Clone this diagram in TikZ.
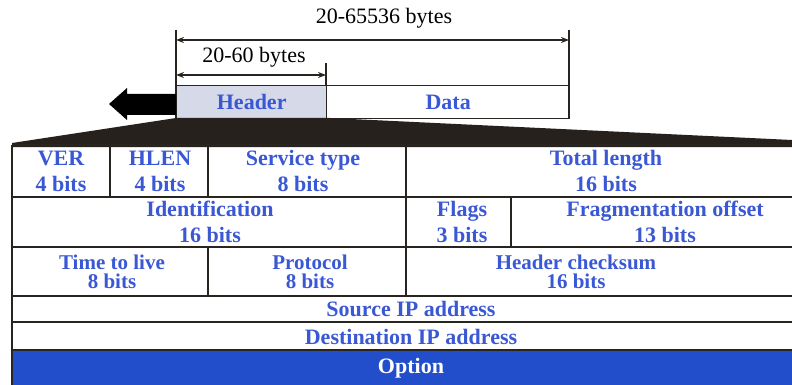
\documentclass[tikz,border=0pt]{standalone}
\usepackage{fontspec}
\setmainfont{Liberation Serif}
\usetikzlibrary{arrows.meta}
\definecolor{lblue}{RGB}{58,88,212}
\definecolor{optblue}{RGB}{34,78,204}
\definecolor{fan}{RGB}{38,33,28}
\definecolor{hatch}{RGB}{214,218,232}
\definecolor{rule}{RGB}{40,36,32}
\tikzset{
  field/.style={text=lblue,font=\fontsize{22}{26}\selectfont\bfseries,align=center,inner sep=0pt},
  tight/.style={field,font=\fontsize{21}{19}\selectfont\bfseries},
  dimtext/.style={font=\fontsize{22}{24}\selectfont,inner sep=0pt},
  dimline/.style={line width=1.4pt,draw=rule,{Stealth[length=8pt,width=6pt]}-{Stealth[length=8pt,width=6pt]}},
  tick/.style={line width=1.4pt,draw=rule},
  grid/.style={line width=1.8pt,draw=rule}
}
\begin{document}
\begin{tikzpicture}[x=1pt,y=-1pt]
\useasboundingbox (0,0) rectangle (792,385);
\clip (0,0) rectangle (792,385);
% dimension ticks
\coordinate (t1a) at (176,30); \coordinate (t1b) at (176,118);
\coordinate (t2a) at (569,30); \coordinate (t2b) at (569,118);
\coordinate (t3a) at (326,63); \coordinate (t3b) at (326,118);
\draw[tick] (t1a) -- (t1b);
\draw[tick] (t2a) -- (t2b);
\draw[tick] (t3a) -- (t3b);
\coordinate (a1) at (176,40); \coordinate (a2) at (569,40);
\coordinate (b1) at (176,75); \coordinate (b2) at (326,75);
\draw[dimline] (a1) -- (a2);
\draw[dimline] (b1) -- (b2);
\node[dimtext] (lbl1) at (384,18) {20-65536 bytes};
\node[dimtext] (lbl2) at (254,57) {20-60 bytes};
% header / data
\node[draw=rule,line width=1.4pt,fill=hatch,minimum width=150pt,minimum height=33pt,anchor=north west,inner sep=0pt] (hdr) at (176,85) {};
\node[draw=rule,line width=1.4pt,minimum width=243pt,minimum height=33pt,anchor=north west,inner sep=0pt] (dat) at (326,85) {};
\node[field] (hdrt) at (hdr.center) {Header};
\node[field] (datt) at (dat.center) {Data};
% black arrow
\fill[black] (109,104) -- (127,88) -- (127,94) -- (176,94) -- (176,115) -- (127,115) -- (127,120) -- cycle;
% fan
\fill[fan] (12,143) -- (176,118) -- (330,118) -- (792,140) -- (792,147) -- (12,147) -- cycle;
% option row
\fill[optblue] (12,350) rectangle (800,390);
% table grid
\draw[grid] (12,145) -- (800,145);
\draw[grid] (12,197) -- (800,197);
\draw[grid] (12,247) -- (800,247);
\draw[grid] (12,296) -- (800,296);
\draw[grid] (12,322) -- (800,322);
\draw[grid] (12,350) -- (800,350);
\draw[grid] (12,145) -- (12,390);
\draw[grid] (110,145) -- (110,197);
\draw[grid] (208,145) -- (208,197);
\draw[grid] (406,145) -- (406,296);
\draw[grid] (511,197) -- (511,247);
\draw[grid] (208,247) -- (208,296);
% row 1
\node[field] (ver) at (61,171) {VER\\4 bits};
\node[field] (hlen) at (160,171) {HLEN\\4 bits};
\node[field] (svc) at (303,171) {Service type\\8 bits};
\node[field] (tot) at (606,171) {Total length\\16 bits};
% row 2
\node[field] (ident) at (210,222) {Identification\\16 bits};
\node[field] (flags) at (462,222) {Flags\\3 bits};
\node[field] (frag) at (665,222) {Fragmentation offset\\13 bits};
% row 3
\node[tight] (ttl) at (112,272) {Time to live\\8 bits};
\node[tight] (proto) at (310,272) {Protocol\\8 bits};
\node[tight] (chk) at (576,272) {Header checksum\\16 bits};
% rows 4-6
\node[field] (src) at (411,309) {Source IP address};
\node[field] (dst) at (411,337) {Destination IP address};
\node[field,text=white] (opt) at (411,368) {Option};
\end{tikzpicture}
\end{document}
